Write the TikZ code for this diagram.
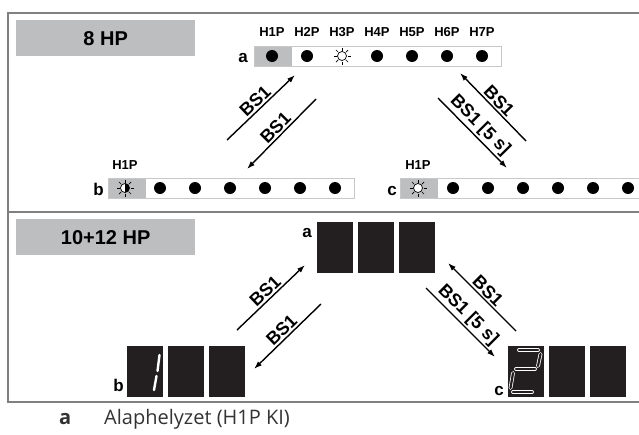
\documentclass[tikz,border=0pt]{standalone}
\usepackage{fontspec}
\setmainfont{Liberation Sans}
\newfontfamily\legendfont{Open Sans}
\usetikzlibrary{arrows.meta,calc,positioning}
\definecolor{framegray}{HTML}{808080}
\definecolor{headgray}{HTML}{BCBEC0}
\definecolor{barline}{HTML}{C8C8C8}
\definecolor{segblack}{HTML}{231F20}
\definecolor{legendtext}{HTML}{333333}

\begin{document}
\begin{tikzpicture}[x=1pt,y=-1pt,
    frame/.style={draw=framegray, line width=1.5pt},
    head/.style={fill=headgray, minimum width=179pt, minimum height=36pt, inner sep=0pt, font=\fontsize{20}{24}\selectfont\bfseries},
    ledbar/.style={draw=barline, line width=1pt, fill=white, minimum height=20pt, inner sep=0pt, anchor=west,
      path picture={\fill[headgray] (path picture bounding box.north west) rectangle ([xshift=37pt]path picture bounding box.south west);}},
    ledcap/.style={font=\fontsize{13}{15}\selectfont\bfseries, inner sep=0pt},
    tag/.style={font=\fontsize{17}{20}\selectfont\bfseries, inner sep=0pt, anchor=base east},
    led/.style={circle, fill=black, minimum size=12pt, inner sep=0pt},
    digit/.style={fill=segblack, minimum width=36pt, minimum height=51pt, inner sep=0pt, anchor=north west},
    seg/.style={draw=white, line width=0.8pt, double=segblack, double distance=2.2pt, line cap=round},
    push/.style={-{Latex[length=8pt,width=5.5pt]}, line width=1.4pt},
    bslabel/.style={font=\fontsize{18}{20}\selectfont\bfseries, sloped, above, inner sep=1.5pt},
    sunled/.pic={\draw[line width=0.7pt, fill=white] (0,0) circle[radius=4.5pt];
      \foreach \a in {0,45,...,315} \draw[line width=0.7pt] (\a:5.5pt) -- (\a:8.5pt);},
    sunblink/.pic={\draw[line width=0.7pt, fill=white] (0,0) circle[radius=4.5pt];
      \fill (90:4.5pt) arc[start angle=90, end angle=-90, radius=4.5pt] -- cycle;
      \foreach \a in {0,45,...,315} \draw[line width=0.7pt] (\a:5.5pt) -- (\a:8.5pt);}
  ]
  \useasboundingbox (0,0) rectangle (639,434);
  \clip (0,0) rectangle (639,434);

  % frame
  \draw[frame] (8,13) rectangle (660,402);
  \draw[frame] (8,212) -- (660,212);

  % 8 HP
  \node[head, anchor=north west] (head8) at (16,20) {8 HP};
  \foreach \i in {1,...,7}
    \node[ledcap] (cap\i) at ({272+35*(\i-1)},32) {H\i P};
  \node[ledbar, minimum width=247pt] (bara) at (254,56) {};
  \node[tag] (taga) at (248,62) {a};
  \foreach \i in {1,2,4,5,6,7}
    \node[led] (a\i) at ({272+35*(\i-1)},56) {};
  \pic at (342,56) {sunled};

  \node[ledbar, minimum width=246pt] (barb) at (108,188) {};
  \node[tag] (tagb) at (104,195) {b};
  \node[ledcap] (capb) at (125,165) {H1P};
  \pic at (125,188) {sunblink};
  \foreach \i in {2,...,7}
    \node[led] (b\i) at ({125+35*(\i-1)},188) {};

  \node[ledbar, minimum width=260pt] (barc) at (400,188) {};
  \node[tag] (tagc) at (397,195) {c};
  \node[ledcap] (capc) at (418,165) {H1P};
  \pic at (418,188) {sunled};
  \foreach \i in {2,...,7}
    \node[led] (c\i) at ({418+35*(\i-1)},188) {};

  \coordinate (ab1) at (227,140); \coordinate (ab2) at (295,75);
  \coordinate (ba1) at (316,99);  \coordinate (ba2) at (247,169);
  \coordinate (ca1) at (526,141); \coordinate (ca2) at (460,73);
  \coordinate (ac1) at (438,98);  \coordinate (ac2) at (507,168);
  \draw[push] (ab1) -- node[bslabel] {BS1} (ab2);
  \draw[push] (ba1) -- node[bslabel] {BS1} (ba2);
  \draw[push] (ca1) -- node[bslabel] {BS1} (ca2);
  \draw[push] (ac1) -- node[bslabel] {BS1 [5 s]} (ac2);

  % 10+12 HP
  \node[head, anchor=north west] (head10) at (16,219) {10+12 HP};
  \foreach \i in {0,1,2} {
    \node[digit] (da\i) at ({317+41*\i},222) {};
    \node[digit] (db\i) at ({127+41*\i},346) {};
    \node[digit] (dc\i) at ({508+41*\i},346) {};
  }
  \node[tag] (tagda) at (312,237) {a};
  \node[tag] (tagdb) at (124,391) {b};
  \node[tag] (tagdc) at (504,395) {c};

  % digit 1
  \draw[white, line width=2.4pt, line cap=round] (159.5,355) -- (157.5,371);
  \draw[white, line width=2.4pt, line cap=round] (156.5,376) -- (154,390);
  % digit 2
  \draw[seg] (519,350) -- (538,350);
  \draw[seg] (540.5,354) -- (538,366);
  \draw[seg] (535,369) -- (516,369);
  \draw[seg] (513,373) -- (510.5,388);
  \draw[seg] (513,392) -- (532,392);

  \coordinate (dab1) at (237,330); \coordinate (dab2) at (305,265);
  \coordinate (dba1) at (321,304); \coordinate (dba2) at (254,369);
  \coordinate (dca1) at (516,331); \coordinate (dca2) at (448,263);
  \coordinate (dac1) at (426,288); \coordinate (dac2) at (495,357);
  \draw[push] (dab1) -- node[bslabel] {BS1} (dab2);
  \draw[push] (dba1) -- node[bslabel] {BS1} (dba2);
  \draw[push] (dca1) -- node[bslabel] {BS1} (dca2);
  \draw[push] (dac1) -- node[bslabel] {BS1 [5 s]} (dac2);

  % legend
  \node[anchor=base west, inner sep=0pt, text=legendtext, font=\legendfont\fontsize{20}{23}\selectfont\bfseries] (lega) at (59,424) {a};
  \node[anchor=base west, inner sep=0pt, text=legendtext, font=\legendfont\fontsize{20}{23}\selectfont] (legtext) at (104,424) {Alaphelyzet (H1P KI)};
\end{tikzpicture}
\end{document}
